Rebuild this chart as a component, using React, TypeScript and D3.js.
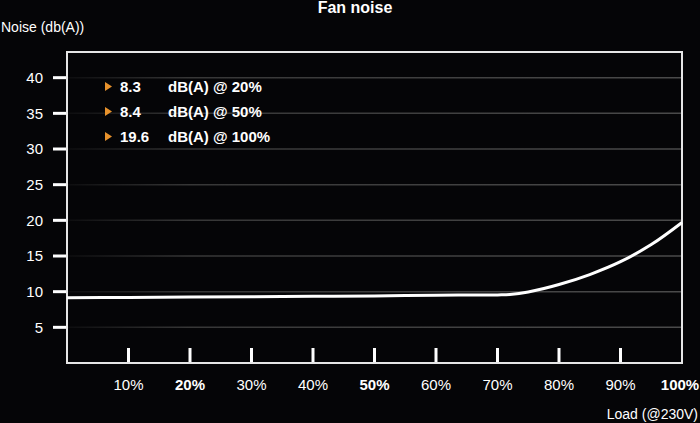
import React from "react";
import * as d3 from "d3";

const loadPct = [0, 10, 20, 30, 40, 50, 60, 70, 72, 75, 80, 85, 90, 95, 100];
const noiseDb = [9.15, 9.2, 9.25, 9.3, 9.35, 9.4, 9.5, 9.55, 9.6, 9.95, 11.0, 12.4, 14.2, 16.6, 19.7];
const yTicks = [5, 10, 15, 20, 25, 30, 35, 40];
const xTicks = [10, 20, 30, 40, 50, 60, 70, 80, 90, 100];
const xBold = [20, 50, 100];
const legendValues = ["8.3", "8.4", "19.6"];
const legendLabels = ["dB(A) @ 20%", "dB(A) @ 50%", "dB(A) @ 100%"];

const W = 700, H = 423;
const L = 67, R = 682, T = 52, B = 363;
const FONT = "'Liberation Sans', Arial, Helvetica, sans-serif";

export default function App() {
  const x = d3.scaleLinear().domain([0, 100]).range([L, R]);
  const y = d3.scaleLinear().domain([0, 43.6]).range([B, T]);
  const pts = loadPct.map((p, i) => [p, noiseDb[i]] as [number, number]);
  const line = d3.line<[number, number]>()
    .x(d => x(d[0]))
    .y(d => y(d[1]))
    .curve(d3.curveCatmullRom.alpha(0.5));

  return (
    <svg width={W} height={H} style={{ position: "absolute", left: 0, top: 0, background: "#050507" }}>
      <defs>
        <linearGradient id="gridFade" x1={L} x2={R} y1={0} y2={0} gradientUnits="userSpaceOnUse">
          <stop offset="0" stopColor="#3c3c3c" stopOpacity={0.15} />
          <stop offset="0.2" stopColor="#3c3c3c" stopOpacity={0.9} />
          <stop offset="1" stopColor="#4a4a4a" stopOpacity={1} />
        </linearGradient>
      </defs>
      <rect x={0} y={0} width={W} height={H} fill="#050507" />
      <text x={355} y={13} textAnchor="middle" fill="#fff" fontFamily={FONT} fontWeight="bold" fontSize={16}>Fan noise</text>
      <text x={1} y={32} fill="#fff" fontFamily={FONT} fontSize={14}>Noise (db(A))</text>
      <text x={698} y={419} textAnchor="end" fill="#fff" fontFamily={FONT} fontSize={14}>Load (@230V)</text>

      {yTicks.map(t => (
        <g key={"g" + t}>
          <line x1={L} x2={R} y1={y(t)} y2={y(t)} stroke="url(#gridFade)" strokeWidth={1.5} />
          <line x1={53} x2={L} y1={y(t)} y2={y(t)} stroke="#fff" strokeWidth={3} />
          <text x={43} y={y(t)} dy="0.35em" textAnchor="end" fill="#fff" fontFamily={FONT} fontSize={15}>{t}</text>
        </g>
      ))}

      {xTicks.map(t => (
        <g key={"x" + t}>
          {t < 100 && <line x1={x(t)} x2={x(t)} y1={348} y2={B} stroke="#fff" strokeWidth={3} />}
          <text x={t === 100 ? x(t) - 2 : x(t)} y={390} textAnchor="middle" fill="#fff" fontFamily={FONT}
            fontSize={15} fontWeight={xBold.includes(t) ? "bold" : "normal"}>{t}%</text>
        </g>
      ))}

      <rect x={L} y={T} width={R - L} height={B - T} fill="none" stroke="#e6e6e6" strokeWidth={2} />

      <path d={line(pts) || ""} fill="none" stroke="#fff" strokeWidth={3} />

      {legendValues.map((v, i) => {
        const by = 92 + i * 25;
        return (
          <g key={"l" + i}>
            <path d={`M105,${by - 10}L112,${by - 5.5}L105,${by - 1}Z`} fill="#e8922c" />
            <text x={120} y={by} fill="#fff" fontFamily={FONT} fontWeight="bold" fontSize={15}>{v}</text>
            <text x={168} y={by} fill="#fff" fontFamily={FONT} fontWeight="bold" fontSize={15}>{legendLabels[i]}</text>
          </g>
        );
      })}
    </svg>
  );
}
